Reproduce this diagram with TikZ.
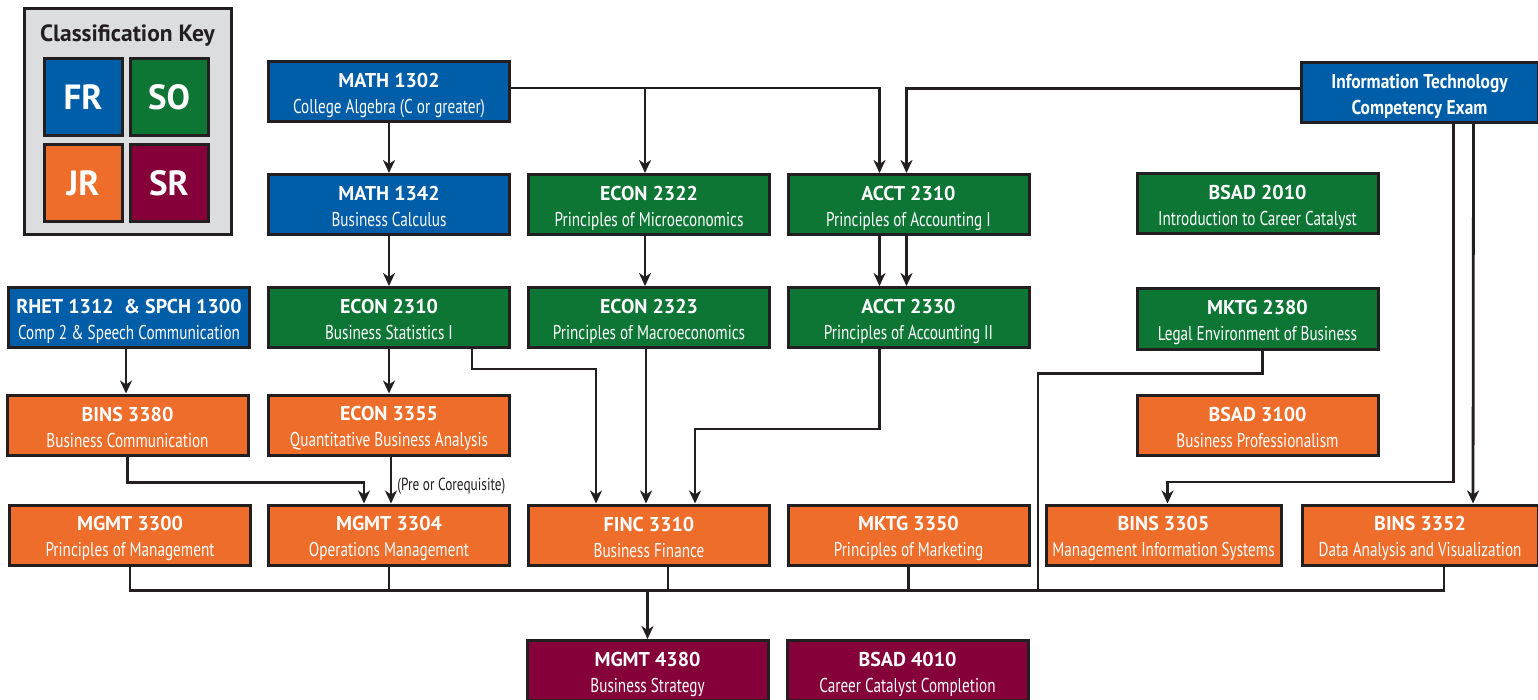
\documentclass[tikz,border=0pt]{standalone}
\usepackage{fontspec}
\setmainfont{PT Sans}
\newfontfamily\narrowfont[FakeStretch=0.76]{PT Sans}
\newfontfamily\semifont[FakeStretch=0.87]{PT Sans}
\usetikzlibrary{arrows.meta,calc}

\definecolor{frblue}{RGB}{0,94,168}
\definecolor{sogreen}{RGB}{13,118,52}
\definecolor{jrorange}{RGB}{239,109,42}
\definecolor{srmaroon}{RGB}{133,0,57}
\definecolor{edge}{RGB}{35,31,32}
\definecolor{keygray}{RGB}{220,221,223}

\newcommand{\crs}[2]{{\bfseries\rule{0pt}{22pt}#1}\\{\narrowfont #2\rule[-4pt]{0pt}{4pt}}}

\tikzset{
  course/.style={draw=edge, line width=3pt, minimum width=241pt, minimum height=60pt,
    inner sep=0pt, align=center, text=white, font=\fontsize{20}{26}\selectfont},
  fr/.style={course, fill=frblue},
  so/.style={course, fill=sogreen},
  jr/.style={course, fill=jrorange},
  sr/.style={course, fill=srmaroon},
  keybox/.style={draw=edge, line width=3pt, minimum width=78pt, minimum height=77pt,
    inner sep=0pt, text=white, font=\fontsize{35}{40}\selectfont\bfseries},
  link/.style={draw=edge, line width=2.8pt},
  arr/.style={link, -{Stealth[length=13pt,width=12pt,inset=4pt]}},
}

\begin{document}
\begin{tikzpicture}[x=1pt,y=-1pt]
\useasboundingbox (0,0) rectangle (1538,700);

% classification key
\draw[draw=edge, line width=3pt, fill=keygray] (24,9) rectangle (231,235);
\node[font=\fontsize{23.5}{26}\selectfont\bfseries, text=edge] (keytitle) at (127.5,36) {Classification Key};
\node[keybox, fill=frblue] (fr) at (83,97.5) {FR};
\node[keybox, fill=sogreen] (so) at (169,97.5) {SO};
\node[keybox, fill=jrorange] (jr) at (83,183.5) {JR};
\node[keybox, fill=srmaroon] (sr) at (169,183.5) {SR};

% freshman / sophomore
\node[fr] (math1302) at (389,92) {\crs{MATH 1302}{College Algebra (C or greater)}};
\node[fr, minimum width=237pt] (itexam) at (1419.5,92.5) {{\semifont\bfseries\rule{0pt}{22pt}Information Technology}\\{\semifont\bfseries Competency Exam\rule[-4pt]{0pt}{4pt}}};
\node[fr] (math1342) at (389,204.5) {\crs{MATH 1342}{Business Calculus}};
\node[so] (econ2322) at (649,204.5) {\crs{ECON 2322}{Principles of Microeconomics}};
\node[so] (acct2310) at (908.5,204.5) {\crs{ACCT 2310}{Principles of Accounting I}};
\node[so] (bsad2010) at (1257.5,203.5) {\crs{BSAD 2010}{Introduction to Career Catalyst}};
\node[fr] (rhet1312) at (129,317.5) {\crs{RHET 1312\ \ \& SPCH 1300}{Comp 2 \& Speech Communication}};
\node[so] (econ2310) at (389,317.5) {\crs{ECON 2310}{Business Statistics I}};
\node[so] (econ2323) at (649,317.5) {\crs{ECON 2323}{Principles of Macroeconomics}};
\node[so] (acct2330) at (908.5,317.5) {\crs{ACCT 2330}{Principles of Accounting II}};
\node[so] (mktg2380) at (1257.5,319) {\crs{MKTG 2380}{Legal Environment of Business}};

% junior
\node[jr] (bins3380) at (127.5,425) {\crs{BINS 3380}{Business Communication}};
\node[jr] (econ3355) at (389,425) {\crs{ECON 3355}{Quantitative Business Analysis}};
\node[jr] (bsad3100) at (1257.5,425) {\crs{BSAD 3100}{Business Professionalism}};
\node[jr] (mgmt3300) at (130,535) {\crs{MGMT 3300}{Principles of Management}};
\node[jr] (mgmt3304) at (389,535) {\crs{MGMT 3304}{Operations Management}};
\node[jr] (finc3310) at (649,535) {\crs{FINC 3310}{Business Finance}};
\node[jr] (mktg3350) at (908.5,535) {\crs{MKTG 3350}{Principles of Marketing}};
\node[jr, minimum width=235pt] (bins3305) at (1163.5,535) {\crs{BINS 3305}{Management Information Systems}};
\node[jr, minimum width=236pt] (bins3352) at (1420,535) {\crs{BINS 3352}{Data Analysis and Visualization}};

% senior
\node[sr] (mgmt4380) at (647.5,670.5) {\crs{MGMT 4380}{Business Strategy}};
\node[sr] (bsad4010) at (907.5,670.5) {\crs{BSAD 4010}{Career Catalyst Completion}};

% prerequisites
\draw[arr] ([yshift=4pt]math1302.east) -| ([xshift=-29pt]acct2310.north);
\draw[arr] ([xshift=-4pt]econ2322.north |- math1302.east) ++(0,-4) -- ([xshift=-4pt]econ2322.north);
\draw[arr] ([yshift=4pt]itexam.west) -| ([xshift=-2pt]acct2310.north);
\draw[arr] (math1302) -- (math1342);
\draw[arr] (math1342) -- (econ2310);
\draw[arr] ([xshift=-4pt]econ2322.south) -- ([xshift=-4pt]econ2323.north);
\draw[arr] ([xshift=-29pt]acct2310.south) -- ([xshift=-29pt]acct2330.north);
\draw[arr] ([xshift=-2pt]acct2310.south) -- ([xshift=-2pt]acct2330.north);
\draw[arr] ([xshift=-3pt]rhet1312.south) -- ([xshift=-1.5pt]bins3380.north);
\draw[arr] (econ2310) -- (econ3355);
\draw[arr] ([xshift=83pt]econ2310.south) -- ++(0,20) -| ([xshift=-53pt]finc3310.north);
\draw[arr] ([xshift=-3pt]econ2323.south) -- ([xshift=-3pt]finc3310.north);
\draw[arr] ([xshift=-29pt]acct2330.south) -- ++(0,80) -| ([xshift=46pt]finc3310.north);
\draw[arr] (bins3380.south) -- ++(0,26) -| ([xshift=-25pt]mgmt3304.north);
\draw[arr] ([xshift=2pt]econ3355.south) -- ([xshift=2pt]mgmt3304.north)
  node[pos=0.63, right, inner sep=5pt, text=edge, font=\narrowfont\fontsize{17.5}{19}\selectfont] {(Pre or Corequisite)};
\draw[arr] ([xshift=34pt]itexam.south) -- ++(0,358) -| ([xshift=4pt]bins3305.north);
\draw[arr] ([xshift=54pt]itexam.south) -- ([xshift=53pt]bins3352.north);

% into the capstone
\draw[link] (mgmt3300.south) -- ++(0,24) coordinate (busleft) -| ([xshift=24pt]bins3352.south);
\draw[link] (mgmt3304.south) -- (mgmt3304.south |- busleft);
\draw[link] ([xshift=19pt]finc3310.south) -- ([xshift=19pt]finc3310.south |- busleft);
\draw[link] (mktg3350.south) -- (mktg3350.south |- busleft);
\coordinate (busjoin) at (1038,589);
\draw[link] ([xshift=5pt]mktg2380.south) -- ++(0,23) -| (busjoin);
\draw[arr] (mgmt4380.north |- busleft) -- (mgmt4380.north);
\end{tikzpicture}
\end{document}
